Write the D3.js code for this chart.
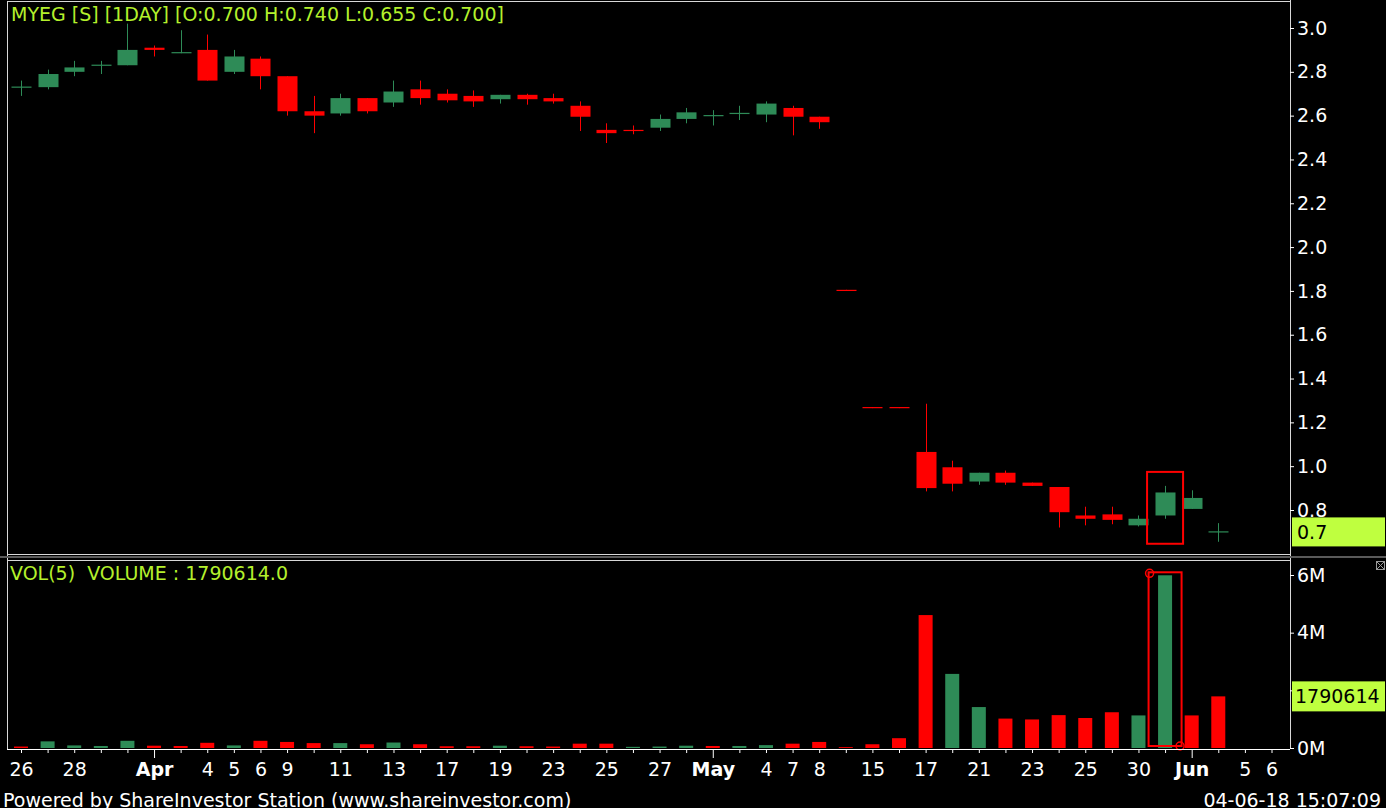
<!DOCTYPE html>
<html><head><meta charset="utf-8">
<script src="https://cdn.jsdelivr.net/npm/d3@7"></script>
<style>
html,body{margin:0;padding:0;background:#000;overflow:hidden}
svg{display:block}
text{font-family:"DejaVu Sans",sans-serif}
</style>
</head><body><svg id="c" width="1386" height="808"></svg>
<script>
// ---------- data ----------
const dates = ["2018-03-26","2018-03-27","2018-03-28","2018-03-29","2018-03-30","2018-04-02","2018-04-03","2018-04-04","2018-04-05","2018-04-06",
"2018-04-09","2018-04-10","2018-04-11","2018-04-12","2018-04-13","2018-04-16","2018-04-17","2018-04-18","2018-04-19","2018-04-20",
"2018-04-23","2018-04-24","2018-04-25","2018-04-26","2018-04-27","2018-04-30","2018-05-02","2018-05-03","2018-05-04","2018-05-07",
"2018-05-08","2018-05-14","2018-05-15","2018-05-16","2018-05-17","2018-05-18","2018-05-21","2018-05-22","2018-05-23","2018-05-24",
"2018-05-25","2018-05-28","2018-05-30","2018-05-31","2018-06-01","2018-06-04","2018-06-05","2018-06-06"];
const tickLabels = ["26","","28","","","Apr","","4","5","6","9","","11","","13","","17","","19","","23","","25","","27","",
"May","","4","7","8","","15","","17","","21","","23","","25","","30","","Jun","","5","6"];
const monthStarts = ["2018-04-02","2018-05-02","2018-06-01"];
const openP  = [2.73,2.73,2.80,2.83,2.83,2.91,2.885,2.90,2.80,2.86,2.78,2.62,2.61,2.68,2.66,2.72,2.70,2.69,2.675,2.695,2.68,2.645,2.535,2.535,2.545,2.585,2.60,2.61,2.605,2.635,2.595,1.805,1.27,1.27,1.065,0.995,0.93,0.97,0.925,0.905,0.775,0.78,0.73,0.775,0.805,0.70];
const highP  = [2.76,2.81,2.85,2.85,3.02,2.92,2.99,2.97,2.90,2.87,2.78,2.69,2.70,2.68,2.76,2.76,2.72,2.715,2.695,2.70,2.70,2.665,2.565,2.555,2.605,2.635,2.625,2.645,2.665,2.645,2.595,1.805,1.27,1.27,1.285,1.025,0.97,0.98,0.925,0.905,0.815,0.815,0.775,0.91,0.89,0.74];
const lowP   = [2.69,2.72,2.78,2.79,2.83,2.87,2.885,2.76,2.79,2.72,2.60,2.52,2.60,2.61,2.64,2.65,2.66,2.64,2.655,2.65,2.655,2.53,2.475,2.515,2.53,2.565,2.555,2.58,2.57,2.51,2.54,1.80,1.265,1.265,0.885,0.885,0.915,0.915,0.91,0.72,0.73,0.735,0.725,0.76,0.805,0.655];
const closeP = [2.73,2.79,2.82,2.83,2.90,2.90,2.89,2.76,2.87,2.78,2.62,2.60,2.68,2.62,2.71,2.68,2.67,2.665,2.695,2.675,2.665,2.595,2.52,2.53,2.585,2.615,2.60,2.61,2.655,2.595,2.57,1.80,1.265,1.265,0.90,0.92,0.97,0.925,0.91,0.79,0.76,0.755,0.76,0.88,0.855,0.70];
const volume = [50000,230000,90000,70000,250000,80000,70000,180000,90000,250000,210000,170000,170000,130000,190000,130000,60000,60000,80000,60000,
50000,150000,150000,40000,50000,80000,70000,70000,100000,150000,210000,30000,130000,340000,4610000,2570000,1420000,1020000,990000,1140000,
1040000,1240000,1130000,5990000,1130000,1790614];
const closeBeforeFirst = 2.74;
const priceTicks = [0.8,1.0,1.2,1.4,1.6,1.8,2.0,2.2,2.4,2.6,2.8,3.0];
const volumeTicks = [0,2000000,4000000,6000000];
const lastPrice = 0.7, lastVolume = 1790614;
const highlightDate = "2018-05-31";
const titleText = "MYEG [S] [1DAY] [O:0.700 H:0.740 L:0.655 C:0.700]";
const volText = "VOL(5)  VOLUME : 1790614.0";
const footerLeft = "Powered by ShareInvestor Station (www.shareinvestor.com)";
const footerRight = "04-06-18 15:07:09";

// ---------- styles ----------
const GREEN = "#2e8b57", RED = "#ff0000", LIME = "#bfff3f", TXT = "#b4f02c";
const svg = d3.select("#c");
const L = 7, R = 1290;

const x = d3.scalePoint().domain(dates).range([21, 1271.5]);
const yP = d3.scaleLinear().domain([0.8, 3.0]).range([510, 28]);
const yV = d3.scaleLinear().domain([0, 6000000]).range([748, 575]);

const candles = openP.map((o,i)=>({date:dates[i],o,h:highP[i],l:lowP[i],c:closeP[i],v:volume[i],
  pc: i===0?closeBeforeFirst:closeP[i-1]}));

svg.append("rect").attr("width",1386).attr("height",808).attr("fill","#000");

// panel frames
const frame = svg.append("g").attr("stroke","#d8d8d8").attr("stroke-width",1).attr("fill","none");
frame.append("line").attr("x1",L).attr("x2",R).attr("y1",1.5).attr("y2",1.5);
frame.append("line").attr("x1",L+0.5).attr("x2",L+0.5).attr("y1",1).attr("y2",749);
frame.append("line").attr("x1",R+0.5).attr("x2",R+0.5).attr("y1",0).attr("y2",749);
frame.append("line").attr("x1",L).attr("x2",R).attr("y1",554.5).attr("y2",554.5);
frame.append("line").attr("x1",L).attr("x2",R).attr("y1",560.5).attr("y2",560.5);
svg.append("rect").attr("x",0).attr("y",556).attr("width",1386).attr("height",2).attr("fill","#5a5a5a");

// candles
const cg = svg.append("g");
const bw = 20;
candles.forEach(d=>{
  const up = d.c >= d.o;
  const col = up ? GREEN : RED;
  const cx = Math.round(x(d.date)) + 0.5;
  cg.append("line").attr("x1",cx).attr("x2",cx).attr("y1",yP(d.h)).attr("y2",yP(d.l)).attr("stroke",col).attr("stroke-width",1);
  const top = yP(Math.max(d.o,d.c)), bot = yP(Math.min(d.o,d.c));
  const hgt = Math.max(1.2, bot-top);
  cg.append("rect").attr("x",cx-bw/2).attr("y",d.o===d.c? top-0.6 : top).attr("width",bw).attr("height",hgt).attr("fill",col);
});

// volume bars
const vg = svg.append("g");
const vw = 14;
candles.forEach(d=>{
  const col = d.c > d.pc ? GREEN : RED;
  const cx = x(d.date);
  vg.append("rect").attr("x",cx-vw/2).attr("y",yV(d.v)).attr("width",vw).attr("height",yV(0)-yV(d.v)).attr("fill",col);
});

// highlight boxes around selected day
const hd = candles.find(d=>d.date===highlightDate);
const hx = x(hd.date);
svg.append("rect").attr("x",hx-18).attr("y",yP(hd.h)-14).attr("width",36).attr("height",yP(hd.l)-yP(hd.h)+39)
  .attr("fill","none").attr("stroke",RED).attr("stroke-width",2);
svg.append("rect").attr("x",hx-16.5).attr("y",yV(hd.v)-3).attr("width",33).attr("height",yV(0)-yV(hd.v)+1)
  .attr("fill","none").attr("stroke",RED).attr("stroke-width",2);
svg.append("circle").attr("cx",hx-15.5).attr("cy",yV(hd.v)-2).attr("r",4).attr("fill","none").attr("stroke",RED).attr("stroke-width",1.5);
svg.append("circle").attr("cx",hx+15).attr("cy",yV(0)-2).attr("r",4).attr("fill","none").attr("stroke",RED).attr("stroke-width",1.5);

// price axis
const pa = svg.append("g").attr("transform",`translate(${R},0)`)
  .call(d3.axisRight(yP).tickValues(priceTicks).tickFormat(d3.format(".1f")).tickSize(4).tickPadding(3));
pa.select(".domain").remove();
pa.selectAll("line").attr("stroke","#fff");
pa.selectAll("text").attr("fill","#fff").attr("font-size",19).attr("font-family","DejaVu Sans");

// last price box
svg.append("rect").attr("x",R+2).attr("y",yP(lastPrice)-14.5).attr("width",93).attr("height",29).attr("fill",LIME);
svg.append("text").attr("x",R+7).attr("y",yP(lastPrice)).attr("dy","0.36em").attr("font-size",19).attr("fill","#000").text(d3.format(".1f")(lastPrice));

// volume axis
const va = svg.append("g").attr("transform",`translate(${R},0)`)
  .call(d3.axisRight(yV).tickValues(volumeTicks).tickFormat(d=>(d/1e6)+"M").tickSize(4).tickPadding(3));
va.select(".domain").remove();
va.selectAll("line").attr("stroke","#fff");
va.selectAll("text").attr("fill","#fff").attr("font-size",19).attr("font-family","DejaVu Sans");
svg.append("rect").attr("x",R+2).attr("y",yV(lastVolume)-15).attr("width",93).attr("height",30).attr("fill",LIME);
svg.append("text").attr("x",R+5).attr("y",yV(lastVolume)).attr("dy","0.36em").attr("font-size",19).attr("fill","#000").text(lastVolume);

// small close icon
const ic = svg.append("g").attr("stroke","#999").attr("fill","none").attr("stroke-width",1);
ic.append("rect").attr("x",1376.5).attr("y",561.5).attr("width",8).attr("height",8);
ic.append("line").attr("x1",1376.5).attr("y1",561.5).attr("x2",1384.5).attr("y2",569.5);
ic.append("line").attr("x1",1384.5).attr("y1",561.5).attr("x2",1376.5).attr("y2",569.5);

// x axis
const xa = svg.append("g").attr("transform","translate(0,749)")
  .call(d3.axisBottom(x).tickSize(4).tickPadding(10).tickFormat((d,i)=>tickLabels[i]));
xa.select(".domain").attr("stroke","#fff").attr("d",`M${L},0.5H${R}`);
xa.selectAll("line").attr("stroke","#fff").attr("y2",d=>monthStarts.includes(d)?9:4);
xa.selectAll("text").attr("fill","#fff").attr("font-size",19).attr("font-family","DejaVu Sans")
  .attr("font-weight",d=>monthStarts.includes(d)?"bold":"normal");

// texts
svg.append("text").attr("x",11).attr("y",20.5).attr("font-size",19).attr("fill",TXT).text(titleText);
svg.append("text").attr("x",10).attr("y",580).attr("font-size",19).attr("fill",TXT).attr("xml:space","preserve").style("white-space","pre").text(volText);
svg.append("text").attr("x",3).attr("y",806.5).attr("font-size",19).attr("fill","#fff").text(footerLeft);
svg.append("text").attr("x",1381).attr("y",806.5).attr("font-size",19).attr("fill","#fff").attr("text-anchor","end").text(footerRight);
</script>
</body></html>
